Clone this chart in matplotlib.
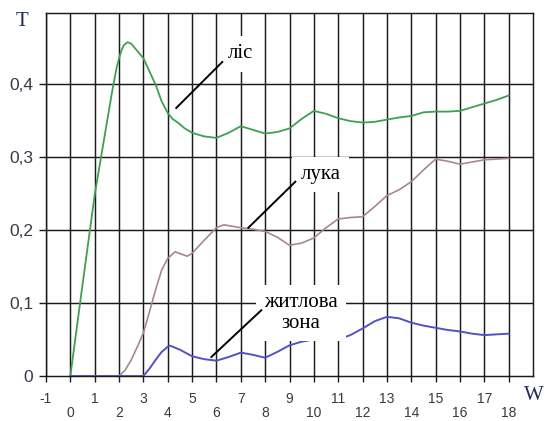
import matplotlib.pyplot as plt
import numpy as np

# values (T against W)
lis_x = [0, 0.5, 1, 1.5, 1.75, 1.9, 2, 2.1, 2.2, 2.35, 2.5, 2.7, 3, 3.25, 3.5, 3.75, 4, 4.2,
         4.45, 4.7, 5, 5.5, 6, 6.5, 7, 7.5, 8, 8.5, 9, 9.5, 10, 10.5, 11, 11.5, 12, 12.5,
         13, 13.5, 14, 14.5, 15, 15.5, 16, 16.5, 17, 17.5, 18]
lis_y = [0, 0.125, 0.248, 0.347, 0.396, 0.422, 0.435, 0.446, 0.453, 0.457, 0.455, 0.447,
         0.435, 0.417, 0.399, 0.376, 0.360, 0.352, 0.346, 0.339, 0.333, 0.328, 0.326,
         0.333, 0.342, 0.337, 0.332, 0.334, 0.339, 0.352, 0.363, 0.359, 0.353, 0.349,
         0.347, 0.348, 0.351, 0.354, 0.356, 0.361, 0.362, 0.362, 0.363, 0.368, 0.373,
         0.378, 0.384]

luka_x = [0, 2, 2.25, 2.5, 2.75, 3, 3.25, 3.5, 3.75, 4, 4.3, 4.55, 4.8, 5, 5.5, 6, 6.3, 7,
          7.5, 8, 8.5, 9, 9.5, 10, 10.5, 11, 11.5, 12, 12.5, 13, 13.5, 14, 14.5, 15, 15.5,
          16, 16.5, 17, 17.5, 18]
luka_y = [0, 0, 0.008, 0.022, 0.040, 0.059, 0.088, 0.118, 0.145, 0.161, 0.170, 0.167,
          0.164, 0.168, 0.186, 0.203, 0.207, 0.203, 0.201, 0.198, 0.190, 0.179, 0.182,
          0.189, 0.203, 0.215, 0.217, 0.218, 0.232, 0.247, 0.255, 0.266, 0.282, 0.297,
          0.294, 0.290, 0.293, 0.296, 0.297, 0.298]

zona_x = [0, 3, 3.25, 3.5, 3.75, 4, 4.1, 4.5, 5, 5.5, 6, 6.5, 7, 7.5, 8, 8.5, 9, 9.5, 10,
          10.5, 11, 11.5, 12, 12.5, 13, 13.5, 14, 14.5, 15, 15.5, 16, 16.5, 17, 17.5, 18]
zona_y = [0, 0, 0.010, 0.022, 0.033, 0.040, 0.0415, 0.036, 0.027, 0.023, 0.021, 0.026,
          0.032, 0.029, 0.025, 0.033, 0.042, 0.047, 0.050, 0.052, 0.050, 0.056, 0.065,
          0.075, 0.081, 0.079, 0.073, 0.069, 0.066, 0.063, 0.061, 0.058, 0.056, 0.057,
          0.058]

x_odd = [-1, 1, 3, 5, 7, 9, 11, 13, 15, 17]
x_even = [0, 2, 4, 6, 8, 10, 12, 14, 16, 18]
y_ticks = [0, 0.1, 0.2, 0.3, 0.4]
y_labels = ['0', '0,1', '0,2', '0,3', '0,4']

fig = plt.figure(figsize=(5.47, 4.21), dpi=100)
ax = fig.add_axes([46/547, 45/421, 487/547, 363/421])

# grid
for xv in range(-1, 19):
    ax.axvline(xv, color='#1a1a1a', lw=1.05, zorder=1)
for yv in y_ticks[1:]:
    ax.axhline(yv, color='#1a1a1a', lw=1.05, zorder=1)

ax.plot(luka_x, luka_y, color='#a88888', lw=1.2, zorder=3)
ax.plot(lis_x, lis_y, color='#3f9f52', lw=1.3, zorder=3)
ax.plot(zona_x, zona_y, color='#5252c4', lw=1.4, zorder=4)

ax.set_xlim(-1, 19)
ax.set_ylim(0, 0.497)
for s in ax.spines.values():
    s.set_color('#1a1a1a')
    s.set_linewidth(1.05)

ax.set_yticks(y_ticks, y_labels)
ax.set_xticks(x_odd, [str(v) for v in x_odd])
ax.set_xticks(x_even, [str(v) for v in x_even], minor=True)
ax.tick_params(axis='y', length=5, width=1.0, color='#1a1a1a', pad=4,
               labelsize=12.5, labelcolor='#3a3a48')
ax.tick_params(axis='x', which='major', length=4.5, width=1.0, color='#1a1a1a', pad=7,
               labelsize=10, labelcolor='#3a3a3a')
ax.tick_params(axis='x', which='minor', length=4.5, width=1.0, color='#1a1a1a', pad=17,
               labelsize=10, labelcolor='#3a3a3a')
for lab in ax.get_xticklabels(which='both') + ax.get_yticklabels():
    lab.set_fontfamily('Liberation Sans')

# axis names
fig.text(22/547, 1 - 21/421, 'T', family='Liberation Serif', fontsize=15,
         color='#1f2c5c', ha='center', va='center')
fig.text(544/547, 1 - 395/421, 'W', family='Liberation Serif', fontsize=15,
         color='#1f2c5c', ha='right', va='center')

# labels with leader lines
box = dict(facecolor='white', edgecolor='none', pad=6)
ax.plot([4.35, 6.24], [0.367, 0.430], color='black', lw=1.4, zorder=6)
ax.text(7.0, 0.441, 'ліс', family='Liberation Serif', fontsize=15,
        ha='center', va='center', bbox=box, zorder=5)

ax.plot([7.31, 9.24], [0.203, 0.266], color='black', lw=1.4, zorder=6)
ax.text(10.27, 0.276, 'лука', family='Liberation Serif', fontsize=15,
        ha='center', va='center', bbox=box, zorder=5)

ax.plot([5.79, 7.84], [0.026, 0.090], color='black', lw=1.4, zorder=6)
ax.text(9.47, 0.086, 'житлова\nзона', family='Liberation Serif', fontsize=15,
        ha='center', va='center', multialignment='center', linespacing=1.1,
        bbox=box, zorder=5)

plt.savefig('out.png', dpi=100)
